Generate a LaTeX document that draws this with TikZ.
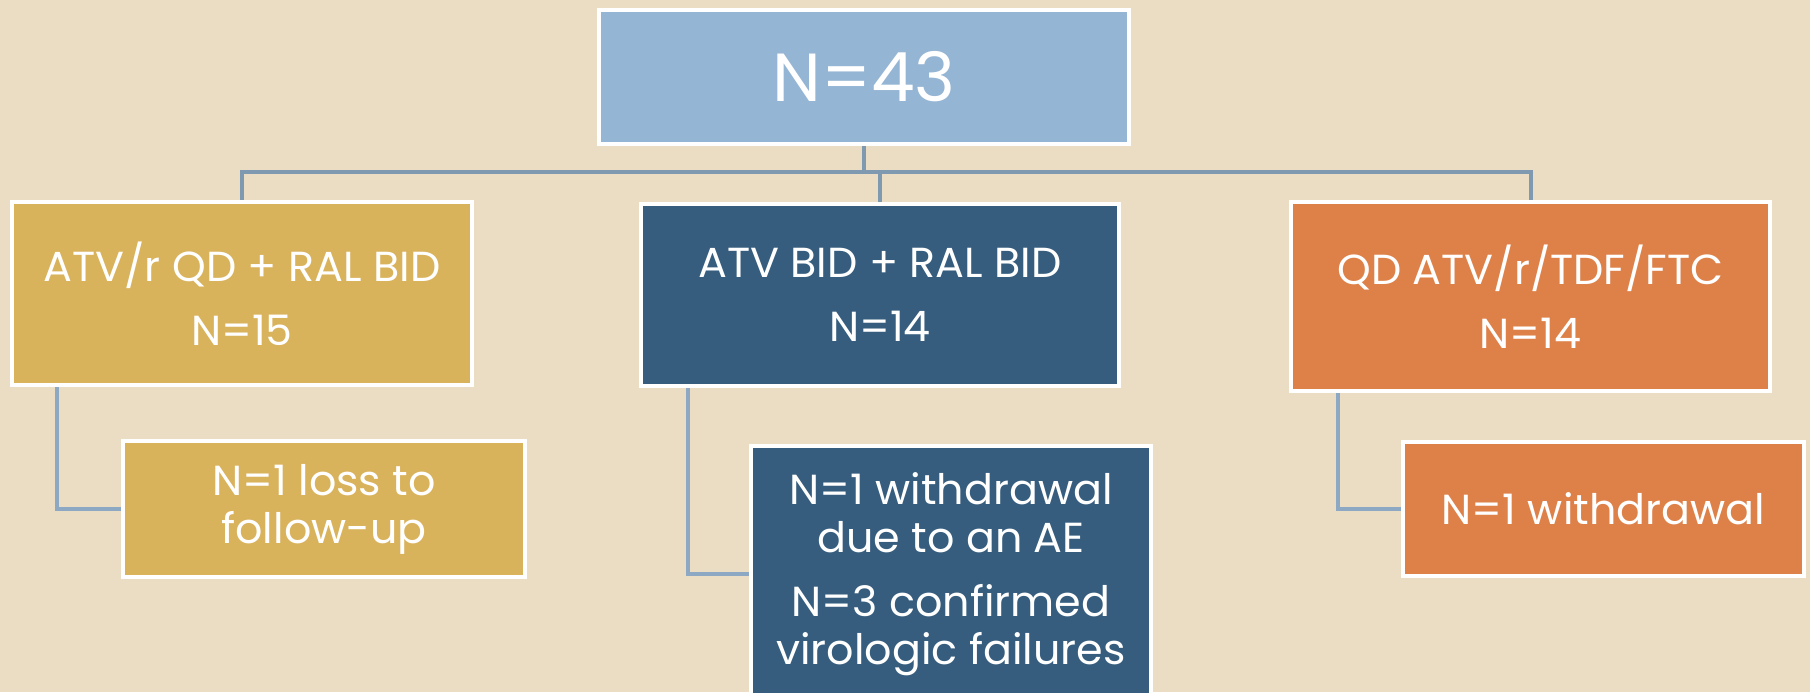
\documentclass[tikz,border=0pt]{standalone}
\usepackage{fontspec}
\setmainfont[FakeStretch=1.02]{Poppins}
\usepackage{tikz}
\usetikzlibrary{positioning}

\definecolor{paper}{HTML}{EBDDC4}
\definecolor{skyblue}{HTML}{95B5D4}
\definecolor{gold}{HTML}{D9B25C}
\definecolor{navy}{HTML}{365D7E}
\definecolor{rust}{HTML}{DE8149}
\definecolor{wire}{HTML}{7F99B1}
\definecolor{wirelight}{HTML}{8CA8C3}

\tikzset{
  box/.style={draw=white, line width=2pt, text=white, align=center, inner sep=0pt},
  armbox/.style={box, font=\fontsize{21pt}{32pt}\selectfont},
  kidbox/.style={box, font=\fontsize{21pt}{24pt}\selectfont},
  wire/.style={draw=wire, line width=2pt},
  twig/.style={draw=wirelight, line width=2pt}
}

\begin{document}
\begin{tikzpicture}[x=0.5pt, y=-0.5pt]
\clip (0,0) rectangle (1810,692);
\fill[paper] (0,0) rectangle (1810,692); %page colour
\coordinate (bus) at (0,172);

% top level
\node[box, fill=skyblue, minimum width=265pt, minimum height=67pt,
  font=\fontsize{34pt}{36pt}\selectfont] (total) at (864,77) {N=43};

% arms
\node[armbox, fill=gold, minimum width=230pt, minimum height=91.5pt] (arm1) at (242,293.5) {ATV/r QD + RAL BID\\N=15};
\node[armbox, fill=navy, minimum width=239pt, minimum height=91pt] (arm2) at (880,295) {ATV BID + RAL BID\\N=14};
\node[armbox, fill=rust, minimum width=239.5pt, minimum height=94.5pt] (arm3) at (1530.5,296.5) {QD ATV/r/TDF/FTC\\N=14};

% drop outs
\node[kidbox, fill=gold, minimum width=201pt, minimum height=68pt] (kid1) at (324,509) {N=1 loss to\\follow-up};
\node[kidbox, fill=navy, minimum width=200pt, minimum height=128pt] (kid2) at (951,574) {N=1 withdrawal\\due to an AE\\[8pt]N=3 confirmed\\virologic failures};
\node[kidbox, fill=rust, minimum width=200.5pt, minimum height=67pt] (kid3) at (1603.5,509) {N=1 withdrawal};

% connectors
\draw[wire] (total.south) -- (total.south |- bus);
\draw[wire] (arm1.north) -- (arm1.north |- bus) -- (arm3.north |- bus) -- (arm3.north);
\draw[wire] (arm2.north) -- (arm2.north |- bus);
\draw[twig] ([xshift=23.5pt]arm1.south west) |- (kid1.west);
\draw[twig] ([xshift=24.5pt]arm2.south west) |- (kid2.west);
\draw[twig] ([xshift=24.5pt]arm3.south west) |- (kid3.west);
\end{tikzpicture}
\end{document}
